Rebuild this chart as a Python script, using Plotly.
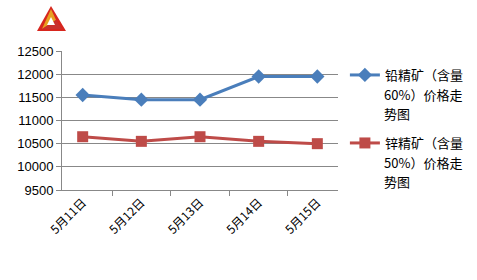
import plotly.graph_objects as go

categories = ["5月11日", "5月12日", "5月13日", "5月14日", "5月15日"]
lead_values = [11550, 11450, 11450, 11950, 11950]
zinc_values = [10650, 10550, 10650, 10550, 10500]
lead_lines = ["铅精矿（含量", "60%）价格走", "势图"]
zinc_lines = ["锌精矿（含量", "50%）价格走", "势图"]

W, H = 477, 280
L, R, T, B = 62, 338, 51, 190

def px(x):
    return (x - L) / (R - L)

def py(y):
    return (B - y) / (B - T)

fig = go.Figure()
fig.add_trace(go.Scatter(
    x=categories, y=lead_values, name=lead_lines[0], mode="lines+markers",
    line=dict(color="#4A7EBB", width=3),
    marker=dict(symbol="diamond", size=11, color="#4A7EBB"),
    legend="legend",
))
fig.add_trace(go.Scatter(
    x=categories, y=zinc_values, name=zinc_lines[0], mode="lines+markers",
    line=dict(color="#BE4B48", width=3),
    marker=dict(symbol="square", size=11, color="#BE4B48"),
    legend="legend2",
))

def path(pts):
    return "M " + " L ".join(f"{px(a):.4f},{py(b):.4f}" for a, b in pts) + " Z"

shapes = [
    dict(type="path", xref="paper", yref="paper",
         path=path([(51, 6), (37, 31), (66, 31)]),
         fillcolor="#D7261E", line=dict(width=0)),
    dict(type="path", xref="paper", yref="paper",
         path=path([(51, 9), (42, 29), (56, 20)]),
         fillcolor="#E8A020", line=dict(width=0)),
    dict(type="path", xref="paper", yref="paper",
         path=path([(56, 20), (42, 29), (62, 29)]),
         fillcolor="#C9302C", line=dict(width=0)),
    dict(type="path", xref="paper", yref="paper",
         path=path([(51, 17), (47, 25), (55, 25)]),
         fillcolor="#FFFFFF", line=dict(width=0)),
]

legend_font = dict(size=13, family="Noto Sans CJK SC", color="black")
annotations = []
for lines, y0 in ((lead_lines, 75), (zinc_lines, 143)):
    for i, txt in enumerate(lines[1:], start=1):
        annotations.append(dict(
            text=txt, xref="paper", yref="paper", x=px(382), y=py(y0 + 19 * i),
            xanchor="left", yanchor="middle", showarrow=False, font=legend_font,
        ))

fig.update_layout(
    width=W, height=H,
    margin=dict(l=L, r=W - R, t=T, b=H - B, autoexpand=False),
    paper_bgcolor="white", plot_bgcolor="white",
    font=dict(family="Noto Sans CJK SC, Liberation Sans, sans-serif", size=12, color="black"),
    showlegend=True,
    legend=dict(x=1.025, y=py(75), xanchor="left", yanchor="middle",
                font=legend_font, itemwidth=30, bgcolor="rgba(0,0,0,0)"),
    legend2=dict(x=1.025, y=py(143), xanchor="left", yanchor="middle",
                 font=legend_font, itemwidth=30, bgcolor="rgba(0,0,0,0)"),
    shapes=shapes,
    annotations=annotations,
)
fig.update_xaxes(
    type="category", tickson="boundaries", ticks="outside", ticklen=5,
    tickcolor="#888888", showline=True, linecolor="#888888", linewidth=1,
    showgrid=False, tickangle=-45,
    tickfont=dict(size=12, family="Noto Sans CJK SC"),
)
fig.update_yaxes(
    range=[9500, 12500], dtick=500, ticks="outside", ticklen=5,
    tickformat="d",
    tickcolor="#888888", showline=True, linecolor="#888888", linewidth=1,
    showgrid=True, gridcolor="#888888", gridwidth=1, zeroline=False,
    tickfont=dict(size=13, family="Liberation Sans"),
)

fig.write_html("out.html")
